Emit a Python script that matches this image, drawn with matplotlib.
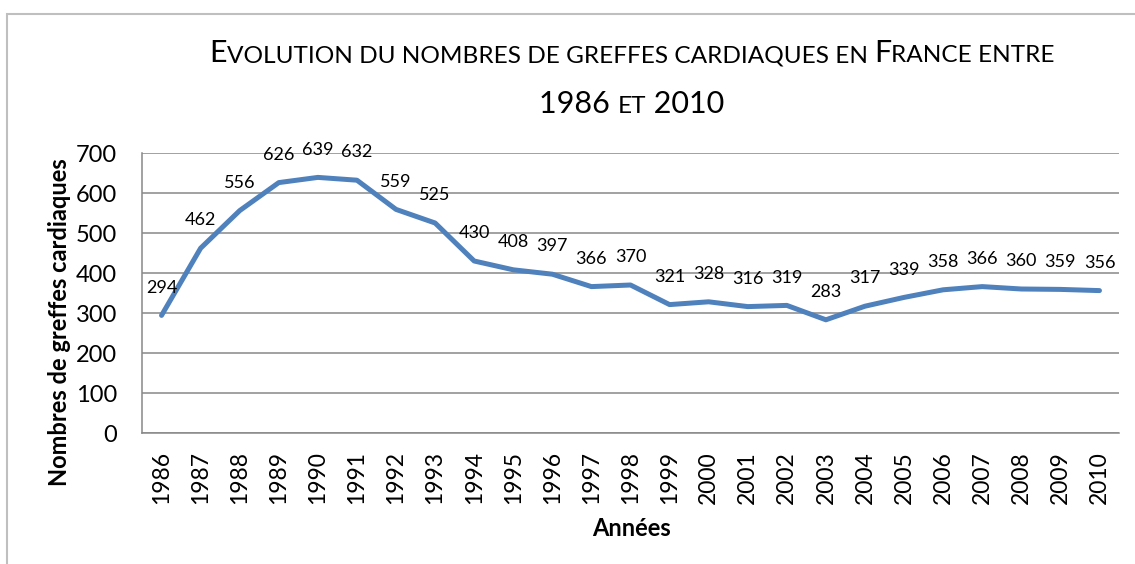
import matplotlib.pyplot as plt
from matplotlib.patches import Rectangle

# Données
annees = list(range(1986, 2011))
greffes = [294, 462, 556, 626, 639, 632, 559, 525, 430, 408, 397, 366, 370,
           321, 328, 316, 319, 283, 317, 339, 358, 366, 360, 359, 356]
y_ticks = [0, 100, 200, 300, 400, 500, 600, 700]

W, H = 1135, 564
plt.rcParams['font.family'] = ['Lato', 'DejaVu Sans']

fig = plt.figure(figsize=(W / 100, H / 100), dpi=100)

# cadre gris du graphique
fig.patches.append(Rectangle((7 / W, -0.05), 1.2, 1 - 14 / H + 0.05,
                             transform=fig.transFigure, fill=False,
                             edgecolor='#BFBFBF', linewidth=1.5))

ax = fig.add_axes([142 / W, 1 - 433 / H, (1119 - 142) / W, (433 - 153) / H])
x = list(range(len(annees)))
ax.plot(x, greffes, color='#4F81BD', linewidth=3.6, solid_capstyle='round',
        solid_joinstyle='round', zorder=3)
for xi, v in zip(x, greffes):
    ax.annotate(str(v), (xi, v), xytext=(0, 20), textcoords='offset points',
                ha='center', va='center', fontsize=13, color='#000000')

ax.set_xlim(-0.5, len(annees) - 0.5)
ax.set_ylim(0, 700)
ax.set_yticks(y_ticks)
ax.set_yticklabels([str(t) for t in y_ticks], fontsize=17)
ax.set_xticks(x)
ax.set_xticklabels([str(a) for a in annees], rotation=90, fontsize=16.5)
ax.tick_params(axis='y', length=0, pad=18)
ax.tick_params(axis='x', length=0, pad=13)
ax.grid(axis='y', color='#888888', linewidth=1.1)
ax.set_axisbelow(True)
for s in ['top', 'right']:
    ax.spines[s].set_visible(False)
for s in ['left', 'bottom']:
    ax.spines[s].set_color('#888888')
    ax.spines[s].set_linewidth(1.1)

fig.text(60 / W, 1 - 322 / H, 'Nombres de greffes cardiaques', rotation=90,
         ha='center', va='center', fontsize=17, fontweight='bold')
fig.text(631 / W, 1 - 528 / H, 'Années', ha='center', va='center',
         fontsize=17, fontweight='bold')

# titre en petites capitales
big, small = 22, 17.6
lignes = [
    ([('E', big), ('VOLUTION DU NOMBRES DE GREFFES CARDIAQUES EN ', small),
      ('F', big), ('RANCE ENTRE', small)], 62),
    ([('1986 ', big), ('ET', small), (' 2010', big)], 113),
]
renderer = fig.canvas.get_renderer()
for segments, base in lignes:
    textes = []
    for s, size in segments:
        t = fig.text(0, 1 - base / H, s, fontsize=size, va='baseline',
                     ha='left', color='#000000')
        textes.append(t)
    largeurs = [t.get_window_extent(renderer).width for t in textes]
    total = sum(largeurs)
    x0 = 632 - total / 2
    for t, w in zip(textes, largeurs):
        t.set_x(x0 / W)
        x0 += w

fig.savefig('out.png', dpi=100)
